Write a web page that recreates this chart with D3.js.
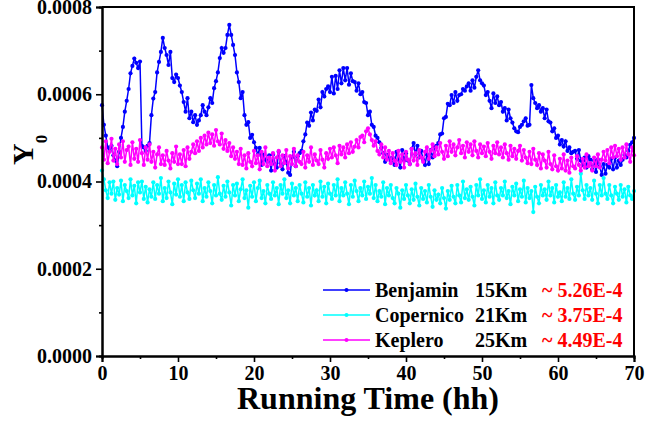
<!DOCTYPE html>
<html><head><meta charset="utf-8">
<script src="https://cdn.jsdelivr.net/npm/d3@7"></script>
<style>
body{margin:0;background:#fff}
svg{display:block}
text{font-family:"Liberation Serif","Times New Roman",serif;font-weight:bold;fill:#000}
</style>
</head><body>
<svg id="chart" width="667" height="423"></svg>
<script>
// ---------- data ----------
const xTicks = [0, 10, 20, 30, 40, 50, 60, 70];
const xTickLabels = ["0", "10", "20", "30", "40", "50", "60", "70"];
const yTicks = [0, 0.0002, 0.0004, 0.0006, 0.0008];
const yTickLabels = ["0.0000", "0.0002", "0.0004", "0.0006", "0.0008"];
const seriesNames = ["Benjamin", "Copernico", "Keplero"];
const seriesDist = ["15Km", "21Km", "25Km"];
const seriesMean = ["~ 5.26E-4", "~ 3.75E-4", "~ 4.49E-4"];
const sampleStep = 0.25; // hh between samples
const valueUnit = 1e-6;  // series values below are in units of 1e-6

const benjamin = [
575,530,505,478,470,482,460,448,435,
468,500,525,560,585,612,648,665,682,672,660,675,
482,478,470,482,488,
552,590,605,650,674,697,729,
706,690,667,697,637,628,645,637,
620,605,582,560,591,545,560,536,
552,530,540,552,575,560,552,570,
591,580,614,630,650,683,706,695,
706,736,759,736,713,690,
650,628,591,605,552,530,536,500,
507,490,477,461,477,438,461,450,445,460,
425,462,440,432,468,442,428,458,445,420,415,455,468,435,458,465,
470,492,508,535,528,558,540,565,
562,588,570,605,595,612,618,605,
640,602,642,612,655,625,660,632,
660,622,648,630,628,608,625,600,
605,582,580,552,560,530,525,505,
500,490,477,465,445,461,455,445,
455,438,468,450,432,472,448,465,
448,440,475,488,462,482,455,470,
450,438,462,440,472,455,478,482,
488,508,510,545,548,578,575,598,
580,605,585,598,600,612,608,618,
625,608,632,615,640,655,632,625,
620,598,605,585,568,602,580,595,
575,582,560,568,540,565,545,535,
522,515,513,525,530,538,545,528,
530,621,591,580,568,575,560,568,
545,565,538,535,515,522,500,505,
485,495,480,492,470,478,465,468,
470,452,472,448,438,455,432,458,
450,428,448,422,450,435,415,440,
418,438,432,452,428,455,432,448,
438,450,461,455,470,484,490,500
];

const copernico = [
425,405,380,362,398,372,400,358,385,
370,402,355,392,378,362,405,368,390,350,398,375,
400,360,388,352,382,
365,398,360,392,372,408,355,
385,362,400,375,348,395,370,405,
365,392,355,398,375,360,402,380,
362,395,372,405,355,385,365,398,
378,350,392,368,410,372,358,390,
365,400,375,345,392,368,
395,355,382,405,362,380,340,390,
365,398,355,385,402,362,378,350,392,372,
360,398,368,385,348,392,372,405,362,380,350,395,368,385,355,392,
372,352,398,365,385,345,392,368,
380,355,400,365,388,350,395,372,
360,392,368,405,355,385,368,398,
372,348,392,365,402,378,355,385,
368,400,360,388,372,408,362,392,
355,378,365,398,348,385,368,392,
362,350,385,372,340,380,360,392,
368,350,382,358,395,365,345,385,
360,378,352,392,365,342,380,358,
370,350,385,362,338,378,358,390,
365,350,392,368,352,400,362,382,
358,388,365,345,392,368,405,360,
380,352,392,365,385,350,398,368,
358,385,368,400,362,378,348,388,
368,395,355,382,365,402,352,385,
362,378,330,388,365,350,392,368,
382,358,400,368,385,352,392,365,
375,355,398,365,385,360,405,372,
358,388,368,418,380,360,392,368,
385,358,402,372,350,392,368,408,
372,360,392,368,350,388,372,358,
392,365,382,352,388,368,360,378
];

const keplero = [
478,450,492,442,468,498,448,475,440,
485,455,492,445,472,480,438,490,452,475,445,495,
465,438,478,450,485,
445,468,432,462,478,440,460,
438,470,448,430,465,445,480,440,
462,440,472,435,478,452,468,485,
465,492,470,500,478,505,485,512,
488,508,482,518,492,485,510,475,
495,470,488,458,478,452,
468,440,475,438,460,430,465,445,
435,470,442,460,428,468,440,478,435,455,
440,465,425,455,470,435,460,442,472,430,458,440,475,435,460,445,
440,468,432,460,445,478,438,462,
448,440,472,450,432,465,452,475,
455,478,460,442,482,462,478,455,
485,465,490,468,480,495,478,502,
505,490,515,522,508,495,482,492,
470,462,485,455,478,450,470,442,
465,448,438,470,445,462,432,468,
450,440,475,448,465,438,472,455,
445,468,478,452,470,485,458,478,
462,488,468,452,482,458,492,468,
485,460,478,495,465,482,455,490,
468,485,460,492,470,455,485,465,
480,458,488,468,452,482,465,490,
462,478,455,485,465,450,482,458,
475,452,470,482,448,472,455,442,
468,440,475,450,438,465,430,462,
448,432,468,440,428,460,435,425,
452,430,462,425,448,420,455,435,
430,458,438,425,452,432,462,435,
442,425,455,435,462,432,450,468,
448,472,442,478,455,482,458,475,
450,478,455,485,462,445,478,460
];

const seriesColors = ["#0000ff", "#00ffff", "#ff00ff"];

// ---------- chart ----------
const svg = d3.select("#chart");
const W = 667, H = 423;
const m = {left: 102, right: 33, top: 7, bottom: 67};
const x = d3.scaleLinear().domain([0, 70]).range([m.left, W - m.right]);
const y = d3.scaleLinear().domain([0, 0.0008]).range([H - m.bottom, m.top]);

svg.append("rect").attr("width", W).attr("height", H).attr("fill", "#fff");

const allSeries = [benjamin, copernico, keplero].map((arr, k) => ({
  name: seriesNames[k],
  color: seriesColors[k],
  points: arr.map((v, i) => ({t: i * sampleStep, v: v * valueUnit}))
}));

const line = d3.line().x(d => x(d.t)).y(d => y(d.v));
const plot = svg.append("g");
allSeries.forEach(s => {
  const g = plot.append("g");
  g.append("path").datum(s.points)
    .attr("d", line).attr("fill", "none")
    .attr("stroke", s.color).attr("stroke-width", 1.5);
  g.selectAll("circle").data(s.points).join("circle")
    .attr("cx", d => x(d.t)).attr("cy", d => y(d.v))
    .attr("r", 2.1).attr("fill", s.color);
});

// frame (top & right)
svg.append("path")
  .attr("d", `M${x(0)},${y(0.0008)}H${x(70)}V${y(0)}`)
  .attr("fill", "none").attr("stroke", "#000").attr("stroke-width", 2);

// axes
const xAxis = svg.append("g").attr("transform", `translate(0,${y(0)})`)
  .call(d3.axisBottom(x).tickValues(xTicks).tickFormat((d, i) => xTickLabels[i]).tickSize(6).tickPadding(4));
const xMinor = svg.append("g").attr("transform", `translate(0,${y(0)})`)
  .call(d3.axisBottom(x).tickValues([5, 15, 25, 35, 45, 55, 65]).tickFormat("").tickSize(3));
const yAxis = svg.append("g").attr("transform", `translate(${x(0)},0)`)
  .call(d3.axisLeft(y).tickValues(yTicks).tickFormat((d, i) => yTickLabels[i]).tickSize(6).tickPadding(4));
const yMinor = svg.append("g").attr("transform", `translate(${x(0)},0)`)
  .call(d3.axisLeft(y).tickValues([0.0001, 0.0003, 0.0005, 0.0007]).tickFormat("").tickSize(3));

[xAxis, xMinor, yAxis, yMinor].forEach(a => {
  a.select(".domain").attr("stroke", "#000").attr("stroke-width", 2);
  a.selectAll(".tick line").attr("stroke", "#000").attr("stroke-width", 1.6);
  a.selectAll("text").attr("font-family", '"Liberation Serif", serif')
    .attr("font-weight", "bold").attr("font-size", 20).attr("fill", "#000");
});

// axis titles
svg.append("text")
  .attr("x", (x(0) + x(70)) / 2).attr("y", 409)
  .attr("text-anchor", "middle").attr("font-size", 32)
  .text("Running Time (hh)");

const yt = svg.append("text")
  .attr("transform", "translate(33,165) rotate(-90)")
  .attr("font-size", 30);
yt.append("tspan").text("Y");
yt.append("tspan").attr("dy", 14).attr("font-size", 17).text("0");

// legend
const legend = svg.append("g");
allSeries.forEach((s, k) => {
  const ly = 290 + k * 25;
  legend.append("line").attr("x1", 323).attr("x2", 370).attr("y1", ly).attr("y2", ly)
    .attr("stroke", s.color).attr("stroke-width", 1.5);
  legend.append("circle").attr("cx", 346.5).attr("cy", ly).attr("r", 2).attr("fill", s.color);
  legend.append("text").attr("x", 375).attr("y", ly + 7).attr("font-size", 20).text(seriesNames[k]);
  legend.append("text").attr("x", 475).attr("y", ly + 7).attr("font-size", 20).text(seriesDist[k]);
  legend.append("text").attr("x", 542).attr("y", ly + 7).attr("font-size", 20)
    .style("fill", "#ff0000").text(seriesMean[k]);
});
</script>
</body></html>
